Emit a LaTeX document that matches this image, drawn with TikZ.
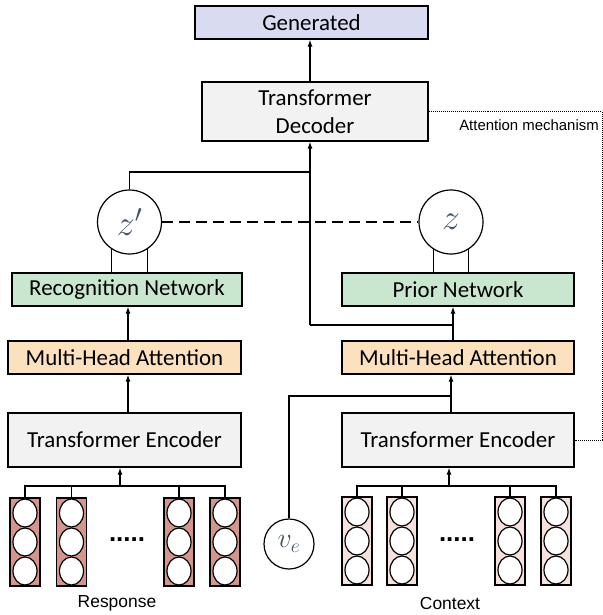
\RequirePackage{fix-cm}
\documentclass[tikz,border=0pt]{standalone}
\usepackage{fontspec}
\setmainfont{Carlito}
\newfontfamily\arialf{Liberation Sans}
\usetikzlibrary{arrows.meta,calc}
\definecolor{genfill}{HTML}{D9DCF0}
\definecolor{grayfill}{HTML}{F2F2F2}
\definecolor{greenfill}{HTML}{C9E6CF}
\definecolor{orangefill}{HTML}{FCE1BF}
\definecolor{darkcol}{HTML}{D4958C}
\definecolor{lightcol}{HTML}{F7E1DC}
\definecolor{mathc}{HTML}{44546A}
\begin{document}
\begin{tikzpicture}[x=1bp,y=-1bp,
  box/.style={draw, line width=1.2bp, minimum height=33bp, inner sep=0pt, font=\fontsize{23}{28}\selectfont},
  circ/.style={draw, circle, line width=1.2bp, minimum size=64bp, inner sep=0pt, text=mathc, font=\fontsize{36}{36}\selectfont, fill=white},
  arr/.style={line width=1.2bp, -{Latex[length=7bp,width=5bp]}},
  ln/.style={line width=1.2bp},
  colbox/.style={draw, line width=1.2bp, minimum width=30bp, minimum height=88bp, inner sep=0pt},
  lbl/.style={font=\arialf\fontsize{17.5}{20}\selectfont},
  dotsl/.style={font=\arialf\bfseries\fontsize{26}{26}\selectfont, anchor=base, inner sep=0pt}
]
\useasboundingbox (0,0) rectangle (603,615);

% boxes
\node[box, fill=genfill, minimum width=233bp] (gen) at (311.5,22.5) {Generated};
\node[box, fill=grayfill, minimum width=226bp, minimum height=59bp, align=center] (dec) at (315,111.5) {Transformer\\Decoder};
\node[circ] (zp) at (129.5,222) {$z'$};
\node[circ] (z) at (451,222) {$z$};
\node[box, fill=greenfill, minimum width=230bp] (rec) at (127,289.5) {Recognition Network};
\node[box, fill=greenfill, minimum width=232bp] (prior) at (458,289.5) {Prior Network};
\node[box, fill=orangefill, minimum width=233bp] (mhaL) at (124.5,357.5) {Multi-Head Attention};
\node[box, fill=orangefill, minimum width=232bp] (mhaR) at (458,357.5) {Multi-Head Attention};
\node[box, fill=grayfill, minimum width=233bp, minimum height=54bp] (encL) at (124.5,440) {Transformer Encoder};
\node[box, fill=grayfill, minimum width=232bp, minimum height=54bp] (encR) at (458,440) {Transformer Encoder};
\node[circ, minimum size=50bp, font=\fontsize{28}{28}\selectfont] (ve) at (289,544) {$v_e$};

% columns
\foreach \n/\x in {1/25,2/71.5,3/179,4/225}{
  \node[colbox, fill=darkcol] (cL\n) at (\x,542) {};
  \foreach \dy in {-29,0,29}{
    \draw[line width=1.2bp, fill=white] (\x,542+\dy) ellipse [x radius=12bp, y radius=14bp];
  }
}
\foreach \n/\x in {1/357,2/402,3/510,4/556}{
  \node[colbox, fill=lightcol] (cR\n) at (\x,541) {};
  \foreach \dy in {-29,0,29}{
    \draw[line width=1.2bp, fill=white] (\x,541+\dy) ellipse [x radius=12bp, y radius=14bp];
  }
}
\node[dotsl] (dL) at (127,541) {.....};
\node[dotsl] (dR) at (457,541) {.....};

% labels
\node[lbl] (resp) at (117,603) {Response};
\node[lbl] (ctx) at (450,603) {Context};
\node[font=\arialf\fontsize{15}{17}\selectfont, anchor=base east, inner sep=0pt] (att) at (599,131) {Attention mechanism};

% coordinates
\coordinate (jt) at (310,172);
\coordinate (jd) at (310,325);
\coordinate (jp) at (453,325);
\coordinate (jv) at (451,396);
\coordinate (xl) at (128,0);
\coordinate (bL) at (120,486);
\coordinate (bR) at (449,486);
\coordinate (rt) at (602,440);

% connectors
\draw[arr] (dec.north -| jd) -- (gen.south -| jd);
\draw[ln] (zp.north) |- (jt);
\draw[arr] (jd) -- (jd |- dec.south);
\draw[ln] (jd) -- (jp);
\draw[arr] (mhaR.north -| jp) -- (prior.south -| jp);
\draw[ln] (ve.north) |- (jv);
\draw[arr] (encR.north -| jv) -- (mhaR.south -| jv);
\draw[arr] (encL.north -| xl) -- (mhaL.south -| xl);
\draw[arr] (mhaL.north -| xl) -- (rec.south -| xl);

\draw[ln, dash pattern=on 11bp off 6bp] (zp.east) -- (z.west);
\draw[ln] (zp.-123) -- (zp.-123 |- rec.north);
\draw[ln] (zp.-57) -- (zp.-57 |- rec.north);
\draw[ln] (z.-123) -- (z.-123 |- prior.north);
\draw[ln] (z.-57) -- (z.-57 |- prior.north);

\draw[line width=1bp, densely dotted] (dec.east) -| (rt) -- (encR.east);

% input buses
\draw[ln] (cL1.north) -- (cL1.north |- bL) -- (cL4.north |- bL) -- (cL4.north);
\draw[ln] (cL2.north) -- (cL2.north |- bL);
\draw[ln] (cL3.north) -- (cL3.north |- bL);
\draw[arr] (bL) -- (bL |- encL.south);
\draw[ln] (cR1.north) -- (cR1.north |- bR) -- (cR4.north |- bR) -- (cR4.north);
\draw[ln] (cR2.north) -- (cR2.north |- bR);
\draw[ln] (cR3.north) -- (cR3.north |- bR);
\draw[arr] (bR) -- (bR |- encR.south);
\end{tikzpicture}
\end{document}
